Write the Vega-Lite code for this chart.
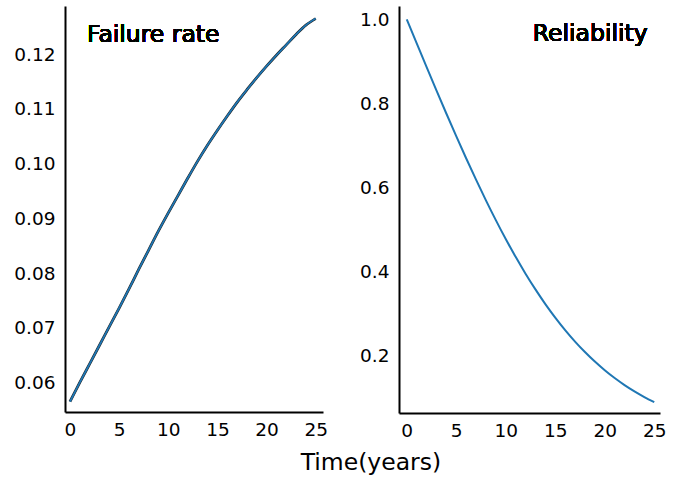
{
  "$schema": "https://vega.github.io/schema/vega-lite/v6.json",
  "background": "white",
  "padding": {"left": 13, "top": 6, "right": 31, "bottom": 4},
  "spacing": 76,
  "bounds": "flush",
  "config": {
    "font": "DejaVu Sans",
    "view": {"stroke": null},
    "axis": {
      "grid": false, "ticks": false, "domainColor": "black", "domainWidth": 2,
      "labelColor": "black", "labelFontSize": 18.5, "labelFont": "DejaVu Sans"
    },
    "title": {"font": "DejaVu Sans", "fontSize": 23.5, "fontWeight": "normal", "color": "black"}
  },
  "title": {"text": "Time(years)", "orient": "bottom", "anchor": "middle", "offset": 11, "dx": 31},
  "datasets": {
    "curves": [
      {"t": 0, "rate": 0.0565, "rel": 1.0},
      {"t": 1, "rate": 0.0600, "rel": 0.9434},
      {"t": 2, "rate": 0.0634, "rel": 0.8869},
      {"t": 3, "rate": 0.0668, "rel": 0.8310},
      {"t": 4, "rate": 0.0702, "rel": 0.7760},
      {"t": 5, "rate": 0.0736, "rel": 0.7221},
      {"t": 6, "rate": 0.0771, "rel": 0.6696},
      {"t": 7, "rate": 0.0807, "rel": 0.6187},
      {"t": 8, "rate": 0.0842, "rel": 0.5695},
      {"t": 9, "rate": 0.0877, "rel": 0.5224},
      {"t": 10, "rate": 0.0910, "rel": 0.4774},
      {"t": 11, "rate": 0.0942, "rel": 0.4350},
      {"t": 12, "rate": 0.0974, "rel": 0.3950},
      {"t": 13, "rate": 0.1005, "rel": 0.3576},
      {"t": 14, "rate": 0.1034, "rel": 0.3227},
      {"t": 15, "rate": 0.1061, "rel": 0.2905},
      {"t": 16, "rate": 0.1087, "rel": 0.2608},
      {"t": 17, "rate": 0.1112, "rel": 0.2335},
      {"t": 18, "rate": 0.1135, "rel": 0.2086},
      {"t": 19, "rate": 0.1157, "rel": 0.1859},
      {"t": 20, "rate": 0.1178, "rel": 0.1653},
      {"t": 21, "rate": 0.1198, "rel": 0.1467},
      {"t": 22, "rate": 0.1217, "rel": 0.1300},
      {"t": 23, "rate": 0.1236, "rel": 0.1150},
      {"t": 24, "rate": 0.1253, "rel": 0.1015},
      {"t": 25, "rate": 0.1265, "rel": 0.0894}
    ]
  },
  "hconcat": [
    {
      "width": 258,
      "height": 406,
      "data": {"name": "curves"},
      "layer": [
        {
          "mark": {"type": "line", "color": "#222222", "strokeWidth": 2.8, "interpolate": "monotone"},
          "encoding": {
            "x": {"field": "t", "type": "quantitative", "scale": {"domain": [-0.51, 25.74], "nice": false, "zero": false},
                  "axis": {"title": null, "values": [0, 5, 10, 15, 20, 25], "labelPadding": 8, "labelFontSize": 18.5, "labelFont": "DejaVu Sans"}},
            "y": {"field": "rate", "type": "quantitative", "scale": {"domain": [0.0546, 0.1288], "nice": false, "zero": false},
                  "axis": {"title": null, "values": [0.06, 0.07, 0.08, 0.09, 0.10, 0.11, 0.12], "format": ".2f", "labelPadding": 10, "labelFontSize": 18.5, "labelFont": "DejaVu Sans"}}
          }
        },
        {
          "mark": {"type": "line", "color": "#1f77b4", "strokeWidth": 1.8, "interpolate": "monotone"},
          "encoding": {
            "x": {"field": "t", "type": "quantitative"},
            "y": {"field": "rate", "type": "quantitative"}
          }
        },
        {
          "mark": {"type": "text", "text": "Failure rate", "align": "left", "baseline": "alphabetic", "font": "DejaVu Sans", "fontSize": 23.5, "fontWeight": "normal", "color": "black"},
          "encoding": {
            "x": {"datum": 1.73, "type": "quantitative"},
            "y": {"datum": 0.1222, "type": "quantitative"}
          }
        }
      ]
    },
    {
      "width": 261,
      "height": 407,
      "data": {"name": "curves"},
      "layer": [
        {
          "mark": {"type": "line", "color": "#1f77b4", "strokeWidth": 2, "interpolate": "monotone"},
          "encoding": {
            "x": {"field": "t", "type": "quantitative", "scale": {"domain": [-0.78, 25.58], "nice": false, "zero": false},
                  "axis": {"title": null, "values": [0, 5, 10, 15, 20, 25], "labelPadding": 8, "labelFontSize": 18.5, "labelFont": "DejaVu Sans"}},
            "y": {"field": "rel", "type": "quantitative", "scale": {"domain": [0.0636, 1.0317], "nice": false, "zero": false},
                  "axis": {"title": null, "values": [0.2, 0.4, 0.6, 0.8, 1.0], "format": ".1f", "labelPadding": 10, "labelFontSize": 18.5, "labelFont": "DejaVu Sans"}}
          }
        },
        {
          "mark": {"type": "text", "text": "Reliability", "align": "right", "baseline": "alphabetic", "font": "DejaVu Sans", "fontSize": 23.5, "fontWeight": "normal", "color": "black"},
          "encoding": {
            "x": {"datum": 24.33, "type": "quantitative"},
            "y": {"datum": 0.9476, "type": "quantitative"}
          }
        }
      ]
    }
  ]
}
